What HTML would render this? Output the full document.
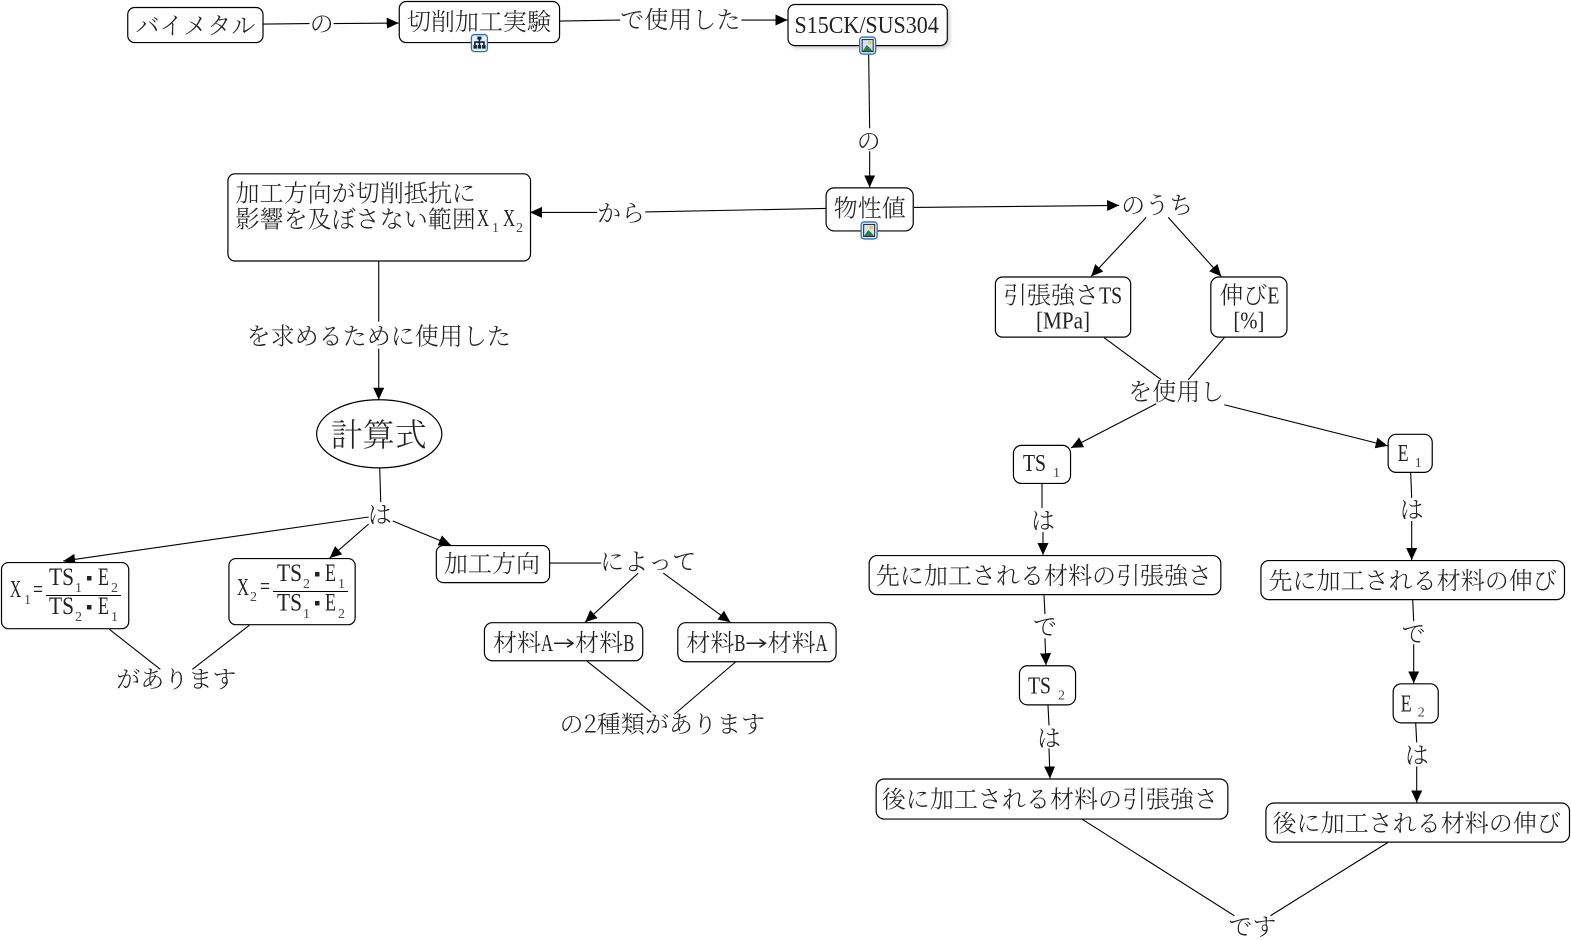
<!DOCTYPE html>
<html><head><meta charset="utf-8"><style>
html,body{margin:0;padding:0;background:#fff}
svg{display:block}
text{font-family:"Liberation Serif","Noto Serif CJK JP",serif;font-size:24px;fill:#222;font-weight:300}
.c{font-family:"Noto Serif CJK JP",serif;text-anchor:middle}
.s{font-size:14px;fill:#444}
.n{fill:#fff;stroke:#000;stroke-width:1.2}
.l{stroke:#000;stroke-width:1.1;fill:none}
</style></head><body>
<svg width="1571" height="940" viewBox="0 0 1568 938.2" xmlns="http://www.w3.org/2000/svg">
<defs>
<marker id="a" markerUnits="userSpaceOnUse" markerWidth="13" markerHeight="12" refX="12" refY="5.5" orient="auto"><path d="M0 0L12 5.5L0 11z" fill="#000"/></marker>
<filter id="sh" x="-5%" y="-10%" width="112%" height="130%"><feDropShadow dx="2" dy="2" stdDeviation="1.5" flood-color="#999" flood-opacity=".5"/></filter>
<g id="img"><rect x="-8" y="-8.500" width="16" height="17" rx="3" fill="#e4effb" stroke="#2a6fc0" stroke-width="1.300"/><rect x="-5.500" y="-6" width="11" height="12" fill="#cfe6f7" stroke="#223" stroke-width="1"/><path d="M-5 5.500L-1 -0.500L2 2L5 5.500z" fill="#2f7d4a"/><circle cx="2" cy="-3" r="1.800" fill="#e6c84a"/></g>
</defs>

<g class="lines">
<path class="l" d="M263 24L309 23.500"/><path class="l" d="M333 23.500L398 23" marker-end="url(#a)"/>
<path class="l" d="M558 21L619 20"/><path class="l" d="M740 20L786 20" marker-end="url(#a)"/>
<path class="l" d="M867 54L868 128"/><path class="l" d="M868 151L868 187" marker-end="url(#a)"/>
<path class="l" d="M824 208L644 211.500"/><path class="l" d="M596 212L529 212" marker-end="url(#a)"/>
<path class="l" d="M912 207L1117 205" marker-end="url(#a)"/>
<path class="l" d="M1144 217L1089 276" marker-end="url(#a)"/>
<path class="l" d="M1166 217L1219 276" marker-end="url(#a)"/>
<path class="l" d="M1102 337L1159 379"/><path class="l" d="M1222 337L1186 379"/>
<path class="l" d="M1154 403L1069 447" marker-end="url(#a)"/>
<path class="l" d="M1222 404L1385 445" marker-end="url(#a)"/>
<path class="l" d="M1040 482L1040 507"/><path class="l" d="M1041 531L1041 554" marker-end="url(#a)"/>
<path class="l" d="M1042 594L1043 613"/><path class="l" d="M1043 637L1044 664" marker-end="url(#a)"/>
<path class="l" d="M1046 704L1047 724"/><path class="l" d="M1047 747L1048 777" marker-end="url(#a)"/>
<path class="l" d="M1408 472L1409 497"/><path class="l" d="M1409 520L1409 559" marker-end="url(#a)"/>
<path class="l" d="M1410 599L1411 620"/><path class="l" d="M1411 643L1411 682" marker-end="url(#a)"/>
<path class="l" d="M1413 722L1414 741"/><path class="l" d="M1414 765L1414 801" marker-end="url(#a)"/>
<path class="l" d="M1079 817L1232 914"/><path class="l" d="M1385 841L1268 914"/>
<path class="l" d="M378 260L378 321"/><path class="l" d="M378 348L378 399" marker-end="url(#a)"/>
<path class="l" d="M379 467L380 501"/>
<path class="l" d="M368 516L63 560" marker-end="url(#a)"/>
<path class="l" d="M368 523L329 557" marker-end="url(#a)"/>
<path class="l" d="M392 520L450 544" marker-end="url(#a)"/>
<path class="l" d="M109 628L160 668"/><path class="l" d="M249 624L192 668"/>
<path class="l" d="M548 562L600 562"/>
<path class="l" d="M637 572L584 621" marker-end="url(#a)"/>
<path class="l" d="M662 572L729 621" marker-end="url(#a)"/>
<path class="l" d="M586 660L650 711"/><path class="l" d="M735 660L673 713"/>
</g>

<g>
<rect class="n" x="127.500" y="7.500" width="135" height="35" rx="7"/>
<rect class="n" x="398.500" y="1.500" width="160" height="41" rx="7"/>
<rect class="n" x="786.500" y="4.500" width="159" height="41" rx="7" filter="url(#sh)"/>
<rect class="n" x="824.500" y="187.500" width="87" height="43" rx="8"/>
<rect class="n" x="227.500" y="173.500" width="302" height="87" rx="7"/>
<rect class="n" x="993.500" y="276.500" width="135" height="60" rx="7"/>
<rect class="n" x="1208.500" y="276.500" width="76" height="60" rx="8"/>
<rect class="n" x="1011.500" y="444.500" width="57" height="38" rx="8"/>
<rect class="n" x="1385.500" y="433.500" width="44" height="38" rx="8"/>
<rect class="n" x="867.500" y="554.500" width="351" height="39" rx="8"/>
<rect class="n" x="1258.500" y="559.500" width="303" height="39" rx="8"/>
<rect class="n" x="1017.500" y="664.500" width="56" height="39" rx="8"/>
<rect class="n" x="1390.500" y="682.500" width="45" height="39" rx="8"/>
<rect class="n" x="874.500" y="777.500" width="351" height="40" rx="8"/>
<rect class="n" x="1263.500" y="801.500" width="303" height="39" rx="8"/>
<ellipse class="n" cx="378.500" cy="433" rx="62.500" ry="34"/>
<rect class="n" x="1.500" y="561.500" width="127" height="66" rx="7"/>
<rect class="n" x="228.500" y="557.500" width="126" height="66" rx="7"/>
<rect class="n" x="435.500" y="544.500" width="113" height="37" rx="7"/>
<rect class="n" x="483.500" y="621.500" width="158" height="38" rx="8"/>
<rect class="n" x="676.500" y="621.500" width="158" height="39" rx="8"/>
</g>

<rect x="470.500" y="34.500" width="16" height="17" rx="3" fill="#e4effb" stroke="#2a6fc0" stroke-width="1.300"/>
<path d="M478.500 38v3M474 46v-4h9v4M478.500 41v5" stroke="#123" fill="none" stroke-width="1.600"/>
<rect x="476.500" y="36.500" width="4" height="3" fill="#123"/><rect x="472.500" y="45" width="3.500" height="3.500" fill="#123"/><rect x="476.800" y="45" width="3.500" height="3.500" fill="#123"/><rect x="481.200" y="45" width="3.500" height="3.500" fill="#123"/>
<use href="#img" x="866" y="45.500"/>
<use href="#img" x="867.500" y="230"/>

<g transform="translate(0,1)">
<text class="c" x="195" y="33">バイメタル</text>
<text class="c" x="321" y="31">の</text>
<text class="c" x="478" y="29">切削加工実験</text>
<text class="c" x="679" y="27">で使用した</text>
<text x="793" y="32" textLength="144" lengthAdjust="spacingAndGlyphs">S15CK/SUS304</text>
<text class="c" x="867" y="148">の</text>
<text class="c" x="868" y="215">物性値</text>
<text class="c" x="620" y="220">から</text>
<text class="c" x="1155" y="212">のうち</text>
<text class="c" x="355" y="200">加工方向が切削抵抗に</text>
<text class="c" x="355" y="226">影響を及ぼさない範囲</text>
<text class="c" x="378" y="343">を求めるために使用した</text>
<text class="c" x="378" y="444" style="font-size:32px">計算式</text>
<text class="c" x="379" y="521">は</text>
<text class="c" x="491" y="570">加工方向</text>
<text class="c" x="647" y="568">によって</text>
<text class="c" x="516" y="649">材料</text><text x="540" y="649" textLength="12" lengthAdjust="spacingAndGlyphs">A</text>
<path d="M553 641H572M566 637L572 641L566 645" stroke="#222" fill="none" stroke-width="1.500"/>
<text class="c" x="598" y="649">材料</text><text x="622" y="649" textLength="11" lengthAdjust="spacingAndGlyphs">B</text>
<text class="c" x="709" y="649">材料</text><text x="733" y="649" textLength="11" lengthAdjust="spacingAndGlyphs">B</text>
<path d="M745 641H764M758 637L764 641L758 645" stroke="#222" fill="none" stroke-width="1.500"/>
<text class="c" x="790" y="649">材料</text><text x="814" y="649" textLength="12" lengthAdjust="spacingAndGlyphs">A</text>
<text class="c" x="176" y="685">があります</text>
<text class="c" x="661" y="730">の2種類があります</text>
<text class="c" x="1049" y="302">引張強さ</text><text x="1097" y="302" textLength="23" lengthAdjust="spacingAndGlyphs">TS</text>
<text x="1034" y="327" textLength="54" lengthAdjust="spacingAndGlyphs">[MPa]</text>
<text class="c" x="1241" y="302">伸び</text><text x="1265" y="302" textLength="12" lengthAdjust="spacingAndGlyphs">E</text>
<text x="1231" y="327" textLength="31" lengthAdjust="spacingAndGlyphs">[%]</text>
<text class="c" x="1174" y="398">を使用し</text>
<text x="1021" y="469" textLength="23" lengthAdjust="spacingAndGlyphs">TS</text><text class="s" x="1051" y="475">1</text>
<text x="1395" y="459" textLength="11" lengthAdjust="spacingAndGlyphs">E</text><text class="s" x="1412" y="465">1</text>
<text class="c" x="1041" y="527">は</text>
<text class="c" x="1409" y="516">は</text>
<text class="c" x="1042" y="582">先に加工される材料の引張強さ</text>
<text class="c" x="1410" y="587">先に加工される材料の伸び</text>
<text class="c" x="1043" y="633">で</text>
<text class="c" x="1411" y="640">で</text>
<text x="1026" y="691" textLength="23" lengthAdjust="spacingAndGlyphs">TS</text><text class="s" x="1056" y="697">2</text>
<text x="1398" y="709" textLength="11" lengthAdjust="spacingAndGlyphs">E</text><text class="s" x="1415" y="714">2</text>
<text class="c" x="1047" y="744">は</text>
<text class="c" x="1414" y="761">は</text>
<text class="c" x="1048" y="805">後に加工される材料の引張強さ</text>
<text class="c" x="1414" y="829">後に加工される材料の伸び</text>
<text class="c" x="1250" y="932">です</text>
</g>

<g transform="scale(.99809)">
<text x="477" y="226" textLength="12" lengthAdjust="spacingAndGlyphs">X</text><text class="s" x="492" y="232">1</text>
<text x="503" y="226" textLength="12" lengthAdjust="spacingAndGlyphs">X</text><text class="s" x="516" y="232">2</text>

<text x="10" y="597" textLength="11" lengthAdjust="spacingAndGlyphs">X</text><text class="s" x="24" y="604">1</text>
<text x="33" y="597" textLength="10" lengthAdjust="spacingAndGlyphs">=</text>
<path d="M46 595.500H121" stroke="#000" stroke-width="1.100"/>
<text x="49" y="585" textLength="25" lengthAdjust="spacingAndGlyphs" style="font-size:25px">TS</text><text class="s" x="75" y="592">1</text><rect x="87" y="576" width="4.500" height="4.500" fill="#222"/><text x="98" y="585" textLength="11" lengthAdjust="spacingAndGlyphs" style="font-size:25px">E</text><text class="s" x="111" y="592">2</text>
<text x="49" y="614" textLength="25" lengthAdjust="spacingAndGlyphs" style="font-size:25px">TS</text><text class="s" x="75" y="621">2</text><rect x="87" y="605" width="4.500" height="4.500" fill="#222"/><text x="98" y="614" textLength="11" lengthAdjust="spacingAndGlyphs" style="font-size:25px">E</text><text class="s" x="111" y="621">1</text>

<text x="237" y="595" textLength="12" lengthAdjust="spacingAndGlyphs">X</text><text class="s" x="250" y="601">2</text>
<text x="260" y="594" textLength="10" lengthAdjust="spacingAndGlyphs">=</text>
<path d="M273 591.500H348" stroke="#000" stroke-width="1.100"/>
<text x="277" y="581" textLength="25" lengthAdjust="spacingAndGlyphs" style="font-size:25px">TS</text><text class="s" x="303" y="588">2</text><rect x="315" y="572" width="4.500" height="4.500" fill="#222"/><text x="325" y="581" textLength="11" lengthAdjust="spacingAndGlyphs" style="font-size:25px">E</text><text class="s" x="338" y="588">1</text>
<text x="277" y="610.500" textLength="25" lengthAdjust="spacingAndGlyphs" style="font-size:25px">TS</text><text class="s" x="303" y="618">1</text><rect x="315" y="601" width="4.500" height="4.500" fill="#222"/><text x="325" y="610.500" textLength="11" lengthAdjust="spacingAndGlyphs" style="font-size:25px">E</text><text class="s" x="338" y="618">2</text>
</g>
</svg>
</body></html>
